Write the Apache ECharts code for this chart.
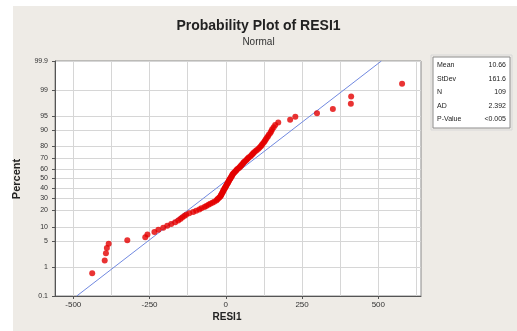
<!DOCTYPE html>
<html>
<head>
<meta charset="utf-8">
<script src="https://cdn.jsdelivr.net/npm/echarts@6/dist/echarts.min.js"></script>
<style>
  html, body { margin: 0; padding: 0; background: #ffffff; }
  #chart { width: 517px; height: 331px; }
</style>
</head>
<body>
<div id="chart"></div>
<script>
// Residuals (RESI1), sorted ascending
const RESIDUALS = [
  -438, -397, -393, -390, -384, -323, -264, -257, -234,
  -221, -205, -192, -179, -166, -156, -149, -143, -136, -130, -120,
  -107, -97, -87, -80, -70, -64, -57, -51, -44, -38,
  -31, -28, -25, -21, -18, -16, -15, -13, -11, -10, -8, -7, -5, -3, -2,
  0, 2, 3, 5, 7, 8, 10, 11, 13, 15,
  16, 18, 20, 21, 23, 25, 28, 31, 34, 36, 39, 43, 46, 49, 51,
  54, 57, 59, 62, 66, 69, 72, 75, 80, 84, 87, 90, 93, 98, 102,
  107, 111, 115, 118, 121, 125, 128, 131, 134, 138, 141, 146, 149, 152, 157, 162,
  172, 211, 228, 299, 351, 410, 411, 578
];

// Probability-scale ticks (percent)
const PERCENT_TICKS = [0.1, 1, 5, 10, 20, 30, 40, 50, 60, 70, 80, 90, 95, 99, 99.9];
const PERCENT_LABELS = ['0.1', '1', '5', '10', '20', '30', '40', '50', '60', '70', '80', '90', '95', '99', '99.9'];

// Residual axis ticks and grid
const X_TICKS = [-500, -250, 0, 250, 500];
const X_TICK_LABELS = ['-500', '-250', '0', '250', '500'];
const X_GRID = [-500, -375, -250, -125, 0, 125, 250, 375, 500, 625];

// Summary statistics
const STAT_NAMES = ['Mean', 'StDev', 'N', 'AD', 'P-Value'];
const STAT_VALUES = ['10.66', '161.6', '109', '2.392', '<0.005'];
const MEAN = 10.66;
const STDEV = 161.6;

// Inverse standard normal CDF (Acklam's rational approximation)
function normInv(p) {
  const a = [-3.969683028665376e+01, 2.209460984245205e+02, -2.759285104469687e+02, 1.383577518672690e+02, -3.066479806614716e+01, 2.506628277459239e+00];
  const b = [-5.447609879822406e+01, 1.615858368580409e+02, -1.556989798598866e+02, 6.680131188771972e+01, -1.328068155288572e+01];
  const c = [-7.784894002430293e-03, -3.223964580411365e-01, -2.400758277161838e+00, -2.549732539343734e+00, 4.374664141464968e+00, 2.938163982698783e+00];
  const d = [7.784695709041462e-03, 3.224671290700398e-01, 2.445134137142996e+00, 3.754408661907416e+00];
  const pl = 0.02425, ph = 1 - pl;
  let q, r;
  if (p < pl) {
    q = Math.sqrt(-2 * Math.log(p));
    return (((((c[0]*q+c[1])*q+c[2])*q+c[3])*q+c[4])*q+c[5]) / ((((d[0]*q+d[1])*q+d[2])*q+d[3])*q+1);
  }
  if (p > ph) {
    q = Math.sqrt(-2 * Math.log(1 - p));
    return -(((((c[0]*q+c[1])*q+c[2])*q+c[3])*q+c[4])*q+c[5]) / ((((d[0]*q+d[1])*q+d[2])*q+d[3])*q+1);
  }
  q = p - 0.5; r = q * q;
  return (((((a[0]*r+a[1])*r+a[2])*r+a[3])*r+a[4])*r+a[5])*q / (((((b[0]*r+b[1])*r+b[2])*r+b[3])*r+b[4])*r+1);
}

const N = RESIDUALS.length;
const Z_TICKS = PERCENT_TICKS.map(p => normInv(p / 100));
const Z_MIN = Z_TICKS[0];
const Z_MAX = Z_TICKS[Z_TICKS.length - 1];
const X_MIN = -560, X_MAX = 640;

// Median-rank plotting positions on the normal scale
const points = RESIDUALS.map((x, i) => [x, normInv((i + 1 - 0.3) / (N + 0.4))]);
// Fitted normal line
const fitLine = [[MEAN + STDEV * Z_MIN, Z_MIN], [MEAN + STDEV * Z_MAX, Z_MAX]];

function percentLabel(z) {
  let best = 0;
  for (let i = 1; i < Z_TICKS.length; i++) {
    if (Math.abs(Z_TICKS[i] - z) < Math.abs(Z_TICKS[best] - z)) best = i;
  }
  return PERCENT_LABELS[best];
}

const FONT = 'Liberation Sans, Arial, sans-serif';
const gridLine = { color: '#d6d6d6', width: 1, type: 'solid' };

const chart = echarts.init(document.getElementById('chart'), null, { renderer: 'canvas' });

const statTexts = [];
STAT_NAMES.forEach((name, i) => {
  const y = 65 + i * 13.6;
  statTexts.push({
    type: 'text', z: 7, x: 437, y: y,
    style: { text: name, font: '7px ' + FONT, fill: '#222', verticalAlign: 'middle', align: 'left' }
  });
  statTexts.push({
    type: 'text', z: 7, x: 506, y: y,
    style: { text: STAT_VALUES[i], font: '7px ' + FONT, fill: '#222', verticalAlign: 'middle', align: 'right' }
  });
});

chart.setOption({
  animation: false,
  backgroundColor: '#ffffff',
  graphic: [
    { type: 'rect', z: -10, shape: { x: 13, y: 6, width: 504, height: 325 }, style: { fill: '#eeebe6' } },
    { type: 'rect', z: 5, shape: { x: 433, y: 57, width: 77, height: 71 }, style: { fill: '#ffffff', stroke: '#8c8c8c', lineWidth: 1 } },
    { type: 'rect', z: 5, shape: { x: 431, y: 55, width: 81, height: 75 }, style: { fill: 'none', stroke: '#d8d8d8', lineWidth: 1 } }
  ].concat(statTexts).concat([
    {
      type: 'text', z: 6, x: 17, y: 179, rotation: Math.PI / 2,
      style: { text: 'Percent', font: 'bold 11px ' + FONT, fill: '#222', align: 'center', verticalAlign: 'middle' }
    },
    {
      type: 'text', z: 6, x: 227, y: 317,
      style: { text: 'RESI1', font: 'bold 10px ' + FONT, fill: '#222', align: 'center', verticalAlign: 'middle' }
    }
  ]),
  title: [
    { text: 'Probability Plot of RESI1', left: 'center', top: 14,
      textStyle: { fontFamily: FONT, fontSize: 14, fontWeight: 'bold', color: '#222' } },
    { text: 'Normal', left: 'center', top: 32,
      textStyle: { fontFamily: FONT, fontSize: 10, fontWeight: 'normal', color: '#333' } }
  ],
  grid: {
    left: 55, right: 96, top: 61, bottom: 35,
    show: true, backgroundColor: '#ffffff', borderColor: '#8a8a8a', borderWidth: 1
  },
  xAxis: [
    {
      type: 'value', min: X_MIN, max: X_MAX, position: 'bottom',
      axisLine: { show: true, onZero: false, lineStyle: { color: '#555', width: 1 } },
      axisTick: { show: true, length: 3, inside: false, customValues: X_TICKS, lineStyle: { color: '#555' } },
      axisLabel: {
        customValues: X_TICKS, margin: 5, fontFamily: FONT, fontSize: 8, color: '#333',
        formatter: v => X_TICK_LABELS[X_TICKS.indexOf(Math.round(v))] ?? ''
      },
      splitLine: { show: false }
    },
    {
      // carries only the vertical grid lines
      type: 'value', min: X_MIN, max: X_MAX, position: 'top',
      axisLine: { show: false, onZero: false },
      axisTick: { show: false, customValues: X_GRID },
      axisLabel: { show: false },
      splitLine: { show: true, lineStyle: gridLine }
    }
  ],
  yAxis: {
    type: 'value', min: Z_MIN, max: Z_MAX, position: 'left',
    axisLine: { show: true, onZero: false, lineStyle: { color: '#555', width: 1 } },
    axisTick: { show: true, length: 3, inside: false, customValues: Z_TICKS, lineStyle: { color: '#555' } },
    axisLabel: {
      customValues: Z_TICKS, margin: 7, fontFamily: FONT, fontSize: 7, color: '#333',
      formatter: v => percentLabel(v)
    },
    splitLine: { show: true, lineStyle: gridLine }
  },
  series: [
    {
      type: 'line', data: fitLine, showSymbol: false, silent: true, z: 2,
      lineStyle: { color: '#7189e0', width: 1 }
    },
    {
      type: 'scatter', data: points, z: 3, symbol: 'circle', symbolSize: 6,
      itemStyle: { color: '#e40000' }
    }
  ]
});
</script>
</body>
</html>
